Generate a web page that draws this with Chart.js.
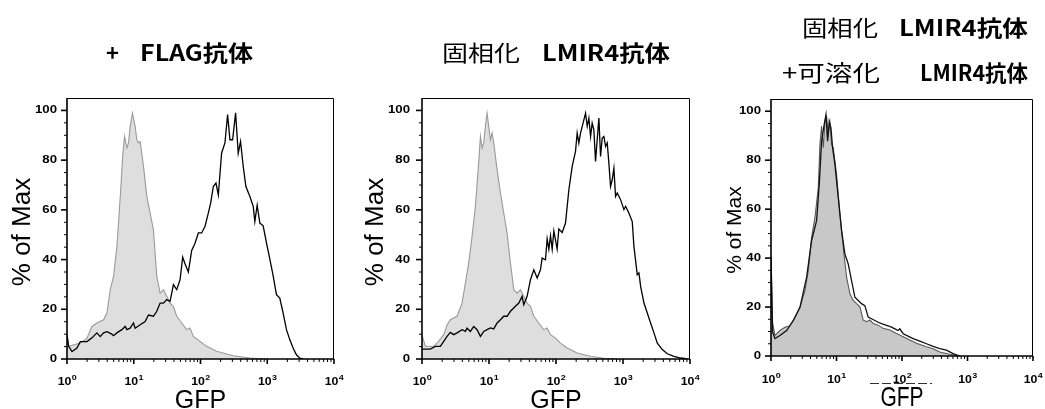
<!DOCTYPE html>
<html>
<head>
<meta charset="utf-8">
<script src="https://cdn.jsdelivr.net/npm/chart.js@4.4.3/dist/chart.umd.min.js"></script>
<style>
  html, body { margin: 0; padding: 0; background: #fff; }
  #page { position: relative; width: 1045px; height: 409px; overflow: hidden; }
  canvas { position: absolute; top: 0; }
  .t { position: absolute; font-family: "Noto Sans CJK JP", sans-serif; font-size: 22px; line-height: 22px;
       white-space: nowrap; transform-origin: 0 50%; color: #000; }
  .b { font-weight: 700; }
</style>
</head>
<body>
<div id="page">
  <canvas id="p1" width="350" height="409" style="left:0"></canvas>
  <canvas id="p2" width="350" height="409" style="left:350px"></canvas>
  <canvas id="p3" width="345" height="409" style="left:700px"></canvas>

  <div class="t b" style="left:106px;top:40px">+</div>
  <div class="t b" style="left:140px;top:40px" data-w="113">FLAG抗体</div>

  <div class="t" style="left:442px;top:40px" data-w="78">固相化</div>
  <div class="t b" style="left:542px;top:40px" data-w="128">LMIR4抗体</div>

  <div class="t" style="left:802px;top:15px" data-w="76">固相化</div>
  <div class="t b" style="left:899px;top:15px" data-w="129">LMIR4抗体</div>
  <div class="t" style="left:782px;top:60px" data-w="98">+可溶化</div>
  <div class="t b" style="left:920px;top:60px" data-w="108">LMIR4抗体</div>
</div>
<script>
// ---------- 軸ラベル ----------
const yTickLabels = [0, 20, 40, 60, 80, 100];
const xTickExponents = ["0", "1", "2", "3", "4"];
const xTitle = "GFP";
const yTitle = "% of Max";

// ---------- ヒストグラム [log10(GFP), % of Max] ----------
// パネル1: + FLAG抗体
const ctrl1 = [[0,10],[0.025,5.1],[0.199,6.4],[0.299,8.4],[0.374,13.1],[0.448,14.5],[0.548,15.8],[0.598,18.5],
  [0.648,27.9],[0.697,33.2],[0.747,45],[0.772,54.7],[0.809,70],[0.834,81.5],[0.862,89.5],[0.897,84.9],[0.922,86.9],
  [0.946,93.6],[0.981,98.9],[1.021,93.6],[1.046,88.2],[1.071,86.9],[1.096,87.5],[1.146,77.5],[1.196,65.4],[1.245,58.7],
  [1.295,52.0],[1.345,33.2],[1.395,26.5],[1.445,27.9],[1.494,25.2],[1.544,22.5],[1.594,21.2],[1.644,17.2],[1.719,14.5],
  [1.793,11.8],[1.843,12.5],[1.893,9.1],[1.993,7.1],[2.092,5.1],[2.242,3.1],[2.491,1.3],[2.740,0.4],[2.989,0]];
const stain1 = [[0,9.8],[0.025,5.1],[0.075,3.0],[0.149,4.4],[0.199,7.0],[0.299,7.0],[0.374,8.5],[0.448,10.5],[0.498,9.0],
  [0.548,10.5],[0.598,11.0],[0.672,10.0],[0.697,9.4],[0.747,10.5],[0.822,11.8],[0.872,13.1],[0.897,11.8],[0.946,12.4],
  [0.996,14.5],[1.021,12.4],[1.096,13.8],[1.171,15.1],[1.220,17.7],[1.295,17.2],[1.345,19.2],[1.395,22.5],[1.445,22.5],
  [1.494,23.9],[1.544,23.2],[1.594,29.9],[1.644,27.9],[1.694,31.9],[1.733,41.0],[1.768,38.3],[1.818,35.0],[1.868,43.7],
  [1.918,46.6],[1.968,50.7],[2.017,50.7],[2.067,53.3],[2.117,58.7],[2.152,62.7],[2.192,69.4],[2.232,70.8],[2.267,66.0],
  [2.316,82.8],[2.366,86.9],[2.406,98.3],[2.441,88.2],[2.481,88.2],[2.526,99.0],[2.565,82.8],[2.600,87.5],[2.640,77.5],
  [2.680,69.4],[2.740,65.4],[2.790,61.4],[2.814,55.3],[2.849,61.9],[2.889,54.7],[2.939,53.6],[2.989,46.6],[3.039,40.2],
  [3.088,33.5],[3.138,25.9],[3.188,24.5],[3.238,18.5],[3.288,11.8],[3.337,7.8],[3.387,4.4],[3.437,1.7],[3.487,0.3],[3.537,0]];

// パネル2: 固相化 LMIR4抗体
const ctrl2 = [[0,9.8],[0.05,5.1],[0.174,5.1],[0.249,7.1],[0.324,9.8],[0.374,13.7],[0.423,15.8],[0.523,17.2],[0.598,22.5],
  [0.648,30.6],[0.697,38.6],[0.747,49.3],[0.797,61.4],[0.847,79.5],[0.872,89.5],[0.897,84.9],[0.922,86.9],[0.946,93.6],
  [0.971,98.9],[0.996,93.6],[1.021,88.2],[1.046,90.9],[1.071,86.9],[1.121,76.1],[1.171,66.8],[1.220,58.7],[1.270,50.7],
  [1.320,38.6],[1.370,27.9],[1.420,26.5],[1.469,27.9],[1.519,25.2],[1.569,22.5],[1.619,21.2],[1.669,17.2],[1.743,14.5],
  [1.818,11.8],[1.868,12.5],[1.918,9.8],[1.993,8.4],[2.067,6.4],[2.167,4.4],[2.316,2.4],[2.516,1.1],[2.715,0.3],[2.914,0]];
const stain2 = [[0,4.0],[0.125,4.0],[0.199,5.1],[0.274,5.1],[0.324,7.1],[0.374,9.1],[0.423,10.7],[0.473,9.8],[0.523,10.5],
  [0.598,11.8],[0.648,11.1],[0.672,12.4],[0.722,11.1],[0.772,13.1],[0.822,11.8],[0.872,9.1],[0.922,11.1],[0.971,11.8],
  [1.021,12.5],[1.071,12.1],[1.121,14.5],[1.171,15.8],[1.220,17.2],[1.270,17.2],[1.320,19.2],[1.395,21.2],[1.445,22.5],
  [1.494,25.2],[1.519,21.8],[1.569,25.2],[1.619,31.9],[1.669,35.9],[1.719,32.6],[1.768,35.9],[1.793,40.6],[1.843,39.9],
  [1.868,48.3],[1.893,44.2],[1.918,49.6],[1.943,44.2],[1.968,51.5],[2.017,44.2],[2.042,52.3],[2.092,50.9],[2.142,54.7],
  [2.192,68.1],[2.242,77.5],[2.291,83.5],[2.316,90.9],[2.341,86.9],[2.366,90.9],[2.416,96.2],[2.441,98.9],[2.466,93.6],
  [2.491,96.9],[2.516,89.5],[2.540,94.9],[2.565,92.2],[2.590,79.5],[2.615,88.2],[2.640,96.9],[2.665,81.5],[2.690,88.9],
  [2.715,89.5],[2.740,85.5],[2.765,86.9],[2.789,78.8],[2.814,69.4],[2.839,72.1],[2.864,76.8],[2.889,65.4],[2.914,66.8],
  [2.964,64.1],[3.014,60.1],[3.039,61.4],[3.088,58.7],[3.138,55.3],[3.163,45.3],[3.213,33.9],[3.238,34.6],[3.263,29.2],
  [3.313,22.5],[3.362,18.5],[3.412,14.5],[3.462,10.5],[3.512,6.4],[3.587,3.8],[3.661,2.1],[3.761,1.1],[3.861,0.4],[3.960,0]];

// パネル3: 固相化 LMIR4抗体 + 可溶化 LMIR4抗体
const ctrl3 = [[0,40.3],[0.025,13.2],[0.061,8.4],[0.137,10.4],[0.213,11.7],[0.290,12.4],[0.366,15.8],[0.442,19.9],
  [0.518,26.7],[0.569,34.9],[0.620,48.5],[0.671,56.6],[0.722,68.8],[0.747,86.4],[0.772,93.9],[0.798,85.1],[0.823,95.7],
  [0.849,97.7],[0.874,90.5],[0.900,95.2],[0.925,86.4],[0.950,85.1],[0.976,79.6],[1.001,74.2],[1.052,57.9],[1.103,44.4],
  [1.154,32.2],[1.205,25.4],[1.255,22.7],[1.306,21.4],[1.357,20.1],[1.408,14.7],[1.459,14.0],[1.510,14.7],[1.560,13.3],
  [1.637,12.6],[1.713,11.3],[1.815,10.6],[1.916,9.2],[2.018,7.9],[2.119,6.5],[2.221,5.2],[2.373,3.8],[2.475,3.0],
  [2.577,1.6],[2.729,0.7],[2.881,0]];
const stain3 = [[0,40.3],[0.025,9.8],[0.061,7.1],[0.137,8.4],[0.239,10.4],[0.341,14.5],[0.442,19.9],[0.544,32.2],
  [0.620,47.2],[0.696,55.3],[0.737,70.3],[0.772,87.8],[0.808,93.9],[0.839,98.6],[0.864,87.8],[0.889,95.9],[0.915,93.2],
  [0.940,85.1],[0.976,78.3],[1.027,64.7],[1.078,51.2],[1.128,41.7],[1.179,37.6],[1.230,30.8],[1.281,24.0],[1.332,22.7],
  [1.382,21.4],[1.433,20.6],[1.484,15.9],[1.535,15.2],[1.586,14.5],[1.637,13.8],[1.687,13.2],[1.764,12.5],[1.840,11.8],
  [1.891,11.1],[1.942,10.4],[1.967,11.1],[2.018,9.1],[2.069,8.4],[2.170,7.1],[2.272,6.1],[2.373,5.0],[2.475,3.9],
  [2.577,3.0],[2.679,2.4],[2.780,1.0],[2.881,0]];

const sans = "'Liberation Sans', Arial, sans-serif";

// 伸縮つきの文字描画
function drawText(ctx, text, x, y, sx, sy) {
  ctx.save();
  ctx.translate(x, y);
  ctx.scale(sx, sy);
  ctx.fillText(text, 0, 0);
  ctx.restore();
}

// 枠・目盛り・軸タイトル
const axisFrame = {
  id: "axisFrame",
  afterDatasetsDraw(chart, args, o) {
    const { ctx, chartArea: a, scales: { x, y } } = chart;
    ctx.save();
    ctx.strokeStyle = "#000";
    ctx.fillStyle = "#000";

    ctx.lineWidth = 1;
    ctx.beginPath();
    ctx.moveTo(a.left, a.top + 0.5);
    ctx.lineTo(a.right - 0.5, a.top + 0.5);
    ctx.lineTo(a.right - 0.5, a.bottom);
    ctx.stroke();
    ctx.lineWidth = 1.6;
    ctx.beginPath();
    ctx.moveTo(a.left, a.top);
    ctx.lineTo(a.left, a.bottom);
    ctx.lineTo(a.right, a.bottom);
    ctx.stroke();

    // y目盛り (5刻み)
    for (let v = 0; v <= 100; v += 5) {
      const py = y.getPixelForValue(v);
      const major = v % 20 === 0;
      ctx.lineWidth = major ? 1.6 : 1;
      ctx.beginPath();
      ctx.moveTo(a.left - (major ? 6 : 3), py);
      ctx.lineTo(a.left, py);
      ctx.stroke();
    }
    ctx.font = "bold 11px " + sans;
    ctx.textAlign = "right";
    ctx.textBaseline = "middle";
    yTickLabels.forEach((v) => drawText(ctx, String(v), a.left - o.labelGap, y.getPixelForValue(v), 1.2, 1));

    // x目盛り (対数)
    for (let d = 0; d < 4; d++) {
      for (let k = 1; k <= 9; k++) {
        const px = x.getPixelForValue(k * Math.pow(10, d));
        ctx.lineWidth = k === 1 ? 1.6 : 1;
        ctx.beginPath();
        ctx.moveTo(px, a.bottom);
        ctx.lineTo(px, a.bottom + (k === 1 ? 5 : 3));
        ctx.stroke();
      }
    }
    const pxEnd = x.getPixelForValue(10000);
    ctx.lineWidth = 1.6;
    ctx.beginPath();
    ctx.moveTo(pxEnd, a.bottom);
    ctx.lineTo(pxEnd, a.bottom + 5);
    ctx.stroke();

    ctx.textAlign = "left";
    ctx.textBaseline = "alphabetic";
    const sx = 1.12;
    xTickExponents.forEach((e) => {
      const px = x.getPixelForValue(Math.pow(10, Number(e)));
      ctx.font = "bold 11px " + sans;
      const w10 = ctx.measureText("10").width * sx;
      ctx.font = "bold 8px " + sans;
      const we = ctx.measureText(e).width * sx;
      const x0 = px - (w10 + we) / 2;
      const base = a.bottom + o.xLabelDrop;
      ctx.font = "bold 11px " + sans;
      drawText(ctx, "10", x0, base, sx, 1);
      ctx.font = "bold 8px " + sans;
      drawText(ctx, e, x0 + w10 + 0.5, base - 5, sx, 1);
    });

    // 軸タイトル
    const cx = (a.left + a.right) / 2;
    ctx.font = o.xTitleSize + "px " + sans;
    ctx.textAlign = "center";
    drawText(ctx, xTitle, cx, o.xTitleBase, 1, o.xTitleStretch);

    ctx.save();
    ctx.translate(a.left - o.yTitleOffset, o.yTitleY);
    ctx.rotate(-Math.PI / 2);
    ctx.font = o.yTitleSize + "px " + sans;
    ctx.textBaseline = "middle";
    ctx.fillText(yTitle, 0, 0);
    ctx.restore();

    if (o.dash) {
      ctx.strokeStyle = "#333";
      ctx.lineWidth = 1;
      ctx.setLineDash([9, 3]);
      ctx.beginPath();
      ctx.moveTo(cx - 32, o.dash + 0.5);
      ctx.lineTo(cx + 30, o.dash + 0.5);
      ctx.stroke();
    }
    ctx.restore();
  },
};

const toPoints = (rows) => rows.map(([e, p]) => ({ x: Math.pow(10, e), y: p }));

function histogram(id, control, stained, look, pad, frame) {
  return new Chart(document.getElementById(id), {
    type: "line",
    data: {
      datasets: [
        { label: "stained", data: toPoints(stained), borderColor: look.line, borderWidth: 1.3,
          pointRadius: 0, tension: 0, fill: false, order: 0 },
        { label: "control", data: toPoints(control), borderColor: look.edge, backgroundColor: look.fill,
          borderWidth: 1.1, pointRadius: 0, tension: 0, fill: "origin", order: 1 },
      ],
    },
    options: {
      responsive: false,
      animation: false,
      devicePixelRatio: 1,
      layout: { padding: pad },
      events: [],
      plugins: { legend: { display: false }, tooltip: { enabled: false }, axisFrame: frame },
      scales: {
        x: { type: "logarithmic", min: 1, max: 10000, display: false },
        y: { type: "linear", min: 0, max: 105, display: false },
      },
    },
    plugins: [axisFrame],
  });
}

const light = { line: "#000", edge: "#9a9a9a", fill: "#dedede" };
const dark = { line: "#111", edge: "#5a5a5a", fill: "#c8c8c8" };

histogram("p1", ctrl1, stain1, light, { left: 67, right: 16, top: 98, bottom: 50 },
  { labelGap: 10, xLabelDrop: 26, xTitleSize: 25, xTitleStretch: 1.05, xTitleBase: 408,
    yTitleSize: 26, yTitleOffset: 44, yTitleY: 232 });
histogram("p2", ctrl2, stain2, light, { left: 72, right: 10, top: 98, bottom: 50 },
  { labelGap: 12, xLabelDrop: 26, xTitleSize: 25, xTitleStretch: 1.05, xTitleBase: 408,
    yTitleSize: 26, yTitleOffset: 46, yTitleY: 232 });
histogram("p3", ctrl3, stain3, dark, { left: 71, right: 12, top: 99, bottom: 53 },
  { labelGap: 10, xLabelDrop: 27, xTitleSize: 21, xTitleStretch: 1.3, xTitleBase: 406,
    yTitleSize: 21, yTitleOffset: 36, yTitleY: 230, dash: 383 });

// 見出しの横幅をそろえる
function fitTitles() {
  document.querySelectorAll(".t[data-w]").forEach((el) => {
    el.style.transform = "none";
    const w = el.getBoundingClientRect().width;
    el.style.transform = "scaleX(" + (Number(el.dataset.w) / w) + ")";
  });
}
fitTitles();
if (document.fonts) document.fonts.ready.then(fitTitles);
</script>
</body>
</html>
